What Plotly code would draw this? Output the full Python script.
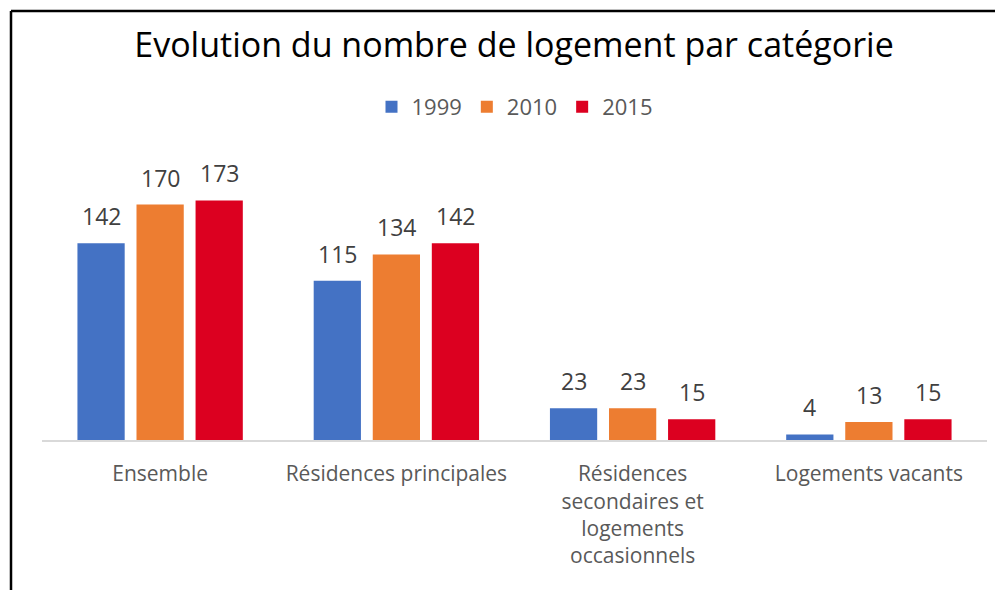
import plotly.graph_objects as go

categories = ["Ensemble", "Résidences principales", "Résidences<br>secondaires et<br>logements<br>occasionnels", "Logements vacants"]
years = ["1999", "2010", "2015"]
v1999 = [142, 115, 23, 4]
v2010 = [170, 134, 23, 13]
v2015 = [173, 142, 15, 15]
colors = ["#4472C4", "#ED7D31", "#DC0020"]

FONT = "Open Sans"
OFF = 8  # page body margin
BARGAP, GROUPGAP = 0.25, 0.2
fig = go.Figure()
series = [v1999, v2010, v2015]
for name, vals, col in zip(years, series, colors):
    fig.add_trace(go.Bar(
        x=categories, y=vals, name=name, marker=dict(color=col, line=dict(width=0)),
    ))

# data labels placed above each bar
slot = (1 - BARGAP) / len(series)
annotations = []
for j, vals in enumerate(series):
    for i, v in enumerate(vals):
        annotations.append(dict(
            x=i + (j - (len(series) - 1) / 2) * slot, y=v, xref="x", yref="y",
            text=str(v), showarrow=False, yanchor="middle", yshift=27,
            font=dict(size=23, color="#404040", family=FONT),
        ))

W, H = 1003, 590
L, R = 42 - OFF, W - (987 - OFF)
T, B = 163 - OFF, H - (440 - OFF)
pw, ph = W - L - R, H - T - B
def px(x): return (x - OFF - L) / pw
def py(y): return (H - B - (y - OFF)) / ph

fig.update_layout(
    width=W, height=H,
    margin=dict(l=L, r=R, t=T, b=B),
    paper_bgcolor="white", plot_bgcolor="white",
    barmode="group", bargap=BARGAP, bargroupgap=GROUPGAP,
    title=dict(text="Evolution du nombre de logement par catégorie", x=px(514), xanchor="center",
               xref="paper", y=1 - (45 - OFF) / H, yanchor="middle",
               font=dict(size=34, color="#000000", family=FONT)),
    legend=dict(orientation="h", x=0.5, xanchor="center", y=py(107), yanchor="middle",
                font=dict(size=22, color="#595959", family=FONT), itemwidth=30,
                traceorder="normal"),
    xaxis=dict(showline=True, linecolor="#D9D9D9", linewidth=2, ticks="", showgrid=False,
               ticklabelstandoff=14,
               tickfont=dict(size=21, color="#595959", family=FONT)),
    yaxis=dict(range=[0, 200], visible=False, showgrid=False, zeroline=False),
    showlegend=True,
    annotations=annotations,
    shapes=[
        dict(type="line", xref="paper", yref="paper", x0=px(11), x1=px(11), y0=py(11), y1=py(640),
             line=dict(color="black", width=2.5)),
        dict(type="line", xref="paper", yref="paper", x0=px(11), x1=px(1060), y0=py(11), y1=py(11),
             line=dict(color="black", width=2.5)),
    ],
)
fig.write_html("out.html")
